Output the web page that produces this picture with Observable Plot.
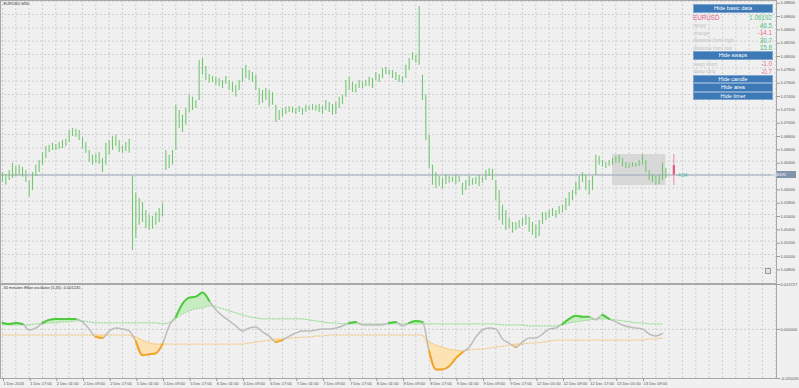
<!DOCTYPE html>
<html><head><meta charset="utf-8">
<script src="https://cdn.jsdelivr.net/npm/d3@7"></script>
<script src="https://cdn.jsdelivr.net/npm/@observablehq/plot@0.6"></script>
<style>
html,body{margin:0;padding:0;background:#f0f0f0;}
body{width:799px;height:388px;overflow:hidden;position:relative;font-family:"Liberation Sans",Arial,sans-serif;}
#main,#osc{position:absolute;left:0;}
#main{top:0;} #osc{top:283px;}
svg{overflow:visible;}
#panel{position:absolute;left:693px;top:4px;width:80px;}
.btn{box-sizing:border-box;height:8.5px;background:#3c79b6;border:1px solid #7ea6cf;color:#fff;font-size:5.5px;line-height:6.5px;text-align:center;}
.row{position:relative;height:7.5px;}
.row .l{position:absolute;left:0;bottom:0.5px;font-size:5px;color:#c4c4c4;}
.row .v{position:absolute;right:1px;bottom:0;font-size:6.3px;}
#scroll{position:absolute;left:765px;top:268px;width:4px;height:4px;border:1px solid #9a9a9a;background:#e4e4e4;}
</style></head><body>
<div id="main"></div><div id="osc"></div><div id="panel"></div><div id="scroll"></div>
<script>
// ---------- data ----------
const chartTitle = "EURUSD,M30";
const oscTitle = "30 minutes Elliot oscillator (5,35) -0.001245";
// hourly high / low of the 30-minute bars, from 1 Dec 09:00 to 13 Dec 16:00
const priceHigh = [
1.0623,1.0620,1.0626,1.0637,1.0632,1.0634,1.0631,1.0626,1.0611,1.0623,
1.0634,1.0641,1.0653,1.0662,1.0664,1.0667,1.0665,1.0668,1.0671,1.0673,
1.0686,1.0689,1.0688,1.0686,1.0676,1.0668,1.0656,1.0649,1.0650,1.0653,
1.0644,1.0667,1.0671,1.0677,1.0679,1.0671,1.0662,1.0668,1.0673,1.0617,
1.0592,1.0584,1.0578,1.0566,1.0559,1.0557,1.0563,1.0569,1.0577,1.0656,
1.0649,1.0656,1.0724,1.0716,1.0709,1.0719,1.0739,1.0736,1.0731,1.0791,
1.0794,1.0782,1.0770,1.0767,1.0766,1.0764,1.0761,1.0767,1.0761,1.0758,
1.0754,1.0761,1.0779,1.0784,1.0776,1.0773,1.0769,1.0749,1.0746,1.0749,
1.0746,1.0743,1.0724,1.0716,1.0719,1.0721,1.0722,1.0721,1.0719,1.0722,
1.0719,1.0724,1.0722,1.0725,1.0724,1.0725,1.0722,1.0731,1.0728,1.0725,
1.0728,1.0736,1.0739,1.0761,1.0766,1.0758,1.0755,1.0761,1.0758,1.0761,
1.0766,1.0764,1.0773,1.0770,1.0779,1.0781,1.0776,1.0776,1.0773,1.0769,
1.0767,1.0784,1.0794,1.0803,1.0799,1.0872,1.0769,1.0739,1.0679,1.0634,
1.0623,1.0617,1.0614,1.0620,1.0617,1.0616,1.0619,1.0617,1.0607,1.0611,
1.0617,1.0614,1.0616,1.0619,1.0616,1.0626,1.0629,1.0628,1.0611,1.0596,
1.0574,1.0566,1.0554,1.0548,1.0548,1.0551,1.0554,1.0559,1.0556,1.0548,
1.0544,1.0551,1.0563,1.0563,1.0566,1.0569,1.0566,1.0572,1.0574,1.0584,
1.0593,1.0596,1.0608,1.0617,1.0623,1.0619,1.0611,1.0617,1.0649,1.0647,
1.0641,1.0638,1.0641,1.0644,1.0647,1.0649,1.0644,1.0638,1.0637,1.0638,
1.0637,1.0641,1.0649,1.0641,1.0626,1.0620,1.0617,1.0619,1.0637,1.0629];
const priceLow = [
1.0608,1.0604,1.0611,1.0614,1.0617,1.0619,1.0616,1.0608,1.0586,1.0596,
1.0617,1.0623,1.0634,1.0644,1.0653,1.0656,1.0656,1.0658,1.0659,1.0662,
1.0668,1.0677,1.0676,1.0671,1.0659,1.0652,1.0638,1.0634,1.0637,1.0635,
1.0623,1.0634,1.0649,1.0656,1.0662,1.0653,1.0652,1.0655,1.0652,1.0506,
1.0524,1.0544,1.0548,1.0539,1.0536,1.0538,1.0544,1.0548,1.0557,1.0626,
1.0629,1.0634,1.0656,1.0689,1.0683,1.0694,1.0713,1.0716,1.0719,1.0731,
1.0769,1.0761,1.0757,1.0758,1.0754,1.0752,1.0749,1.0755,1.0746,1.0743,
1.0736,1.0746,1.0758,1.0764,1.0761,1.0758,1.0746,1.0724,1.0727,1.0731,
1.0721,1.0724,1.0698,1.0701,1.0707,1.0710,1.0713,1.0712,1.0710,1.0713,
1.0709,1.0713,1.0716,1.0716,1.0715,1.0713,1.0710,1.0716,1.0713,1.0709,
1.0710,1.0719,1.0725,1.0736,1.0746,1.0743,1.0742,1.0749,1.0749,1.0752,
1.0752,1.0749,1.0761,1.0758,1.0764,1.0770,1.0769,1.0764,1.0761,1.0758,
1.0757,1.0764,1.0776,1.0791,1.0787,1.0784,1.0731,1.0671,1.0629,1.0604,
1.0599,1.0602,1.0599,1.0605,1.0607,1.0608,1.0605,1.0608,1.0589,1.0596,
1.0602,1.0604,1.0605,1.0602,1.0607,1.0611,1.0617,1.0611,1.0581,1.0551,
1.0544,1.0536,1.0539,1.0532,1.0536,1.0539,1.0542,1.0544,1.0533,1.0529,
1.0524,1.0527,1.0545,1.0551,1.0554,1.0557,1.0554,1.0560,1.0563,1.0566,
1.0572,1.0581,1.0589,1.0596,1.0608,1.0596,1.0589,1.0596,1.0619,1.0634,
1.0631,1.0629,1.0632,1.0634,1.0637,1.0637,1.0632,1.0629,1.0629,1.0631,
1.0631,1.0632,1.0634,1.0623,1.0611,1.0608,1.0604,1.0605,1.0611,1.0614];
const lastPrice = 1.06192;
const dayOpen = 1.06333;
const sessionStartHour = 183;
const sessionHigh = 1.06499;
const sessionLow = 1.06034;
const timerText = "4:04";
const priceTicks = [1.088,1.086,1.084,1.082,1.080,1.078,1.076,1.074,1.072,1.070,1.068,1.066,1.064,1.062,1.060,1.058,1.056,1.054,1.052,1.050,1.048];
const timeLabels = ["1 Dec 2016","1 Dec 17:00","2 Dec 01:00","2 Dec 09:00","2 Dec 17:00","5 Dec 01:00","5 Dec 09:00","5 Dec 17:00","6 Dec 01:00","6 Dec 09:00","6 Dec 17:00","7 Dec 01:00","7 Dec 09:00","7 Dec 17:00","8 Dec 01:00","8 Dec 09:00","8 Dec 17:00","9 Dec 01:00","9 Dec 09:00","9 Dec 17:00","12 Dec 01:00","12 Dec 09:00","12 Dec 17:00","13 Dec 01:00","13 Dec 09:00"];
// oscillator, one value every 2 hours
const oscMain = [
0.00198,0.00167,0.00198,0.00167,-0.00019,0.00043,0.00198,0.00290,0.00321,0.00321,
0.00321,0.00321,0.00229,0.00012,-0.00235,-0.00266,-0.00049,0.00043,0.00012,-0.00049,
-0.00358,-0.00791,-0.00760,-0.00729,-0.00451,0.00105,0.00383,0.00785,0.00970,0.01001,
0.01125,0.00878,0.00599,0.00414,0.00260,0.00105,-0.00049,0.00043,0.00074,-0.00080,
-0.00204,-0.00389,-0.00328,-0.00204,-0.00111,-0.00049,-0.00049,-0.00019,0.00012,0.00012,
0.00043,0.00105,0.00198,0.00229,0.00136,0.00136,0.00136,0.00136,0.00198,0.00229,
0.00105,0.00198,0.00260,0.00229,-0.00667,-0.01224,-0.01224,-0.01131,-0.00884,-0.00698,
-0.00544,-0.00235,-0.00019,0.00043,0.00012,-0.00297,-0.00420,-0.00544,-0.00389,-0.00266,
-0.00266,-0.00142,0.00012,0.00043,0.00167,0.00321,0.00414,0.00383,0.00383,0.00290,
0.00445,0.00321,0.00229,0.00136,0.00074,0.00043,0.00012,-0.00142,-0.00204,-0.00125];
const oscUpper = [
0.00136,0.00136,0.00136,0.00136,0.00136,0.00167,0.00167,0.00198,0.00198,0.00229,
0.00229,0.00260,0.00260,0.00229,0.00198,0.00198,0.00198,0.00198,0.00198,0.00198,
0.00198,0.00198,0.00198,0.00198,0.00167,0.00198,0.00321,0.00476,0.00569,0.00630,
0.00661,0.00723,0.00692,0.00630,0.00569,0.00507,0.00445,0.00383,0.00352,0.00321,
0.00321,0.00321,0.00321,0.00321,0.00321,0.00321,0.00290,0.00260,0.00229,0.00198,
0.00198,0.00167,0.00167,0.00167,0.00167,0.00167,0.00167,0.00167,0.00167,0.00167,
0.00167,0.00167,0.00167,0.00167,0.00167,0.00167,0.00167,0.00167,0.00167,0.00167,
0.00167,0.00167,0.00167,0.00167,0.00167,0.00136,0.00136,0.00136,0.00136,0.00105,
0.00105,0.00105,0.00105,0.00105,0.00136,0.00198,0.00229,0.00260,0.00290,0.00321,
0.00321,0.00321,0.00290,0.00260,0.00229,0.00198,0.00198,0.00167,0.00167,0.00167];
const oscLower = [
-0.00173,-0.00173,-0.00173,-0.00173,-0.00173,-0.00173,-0.00173,-0.00173,-0.00173,-0.00173,
-0.00173,-0.00173,-0.00173,-0.00173,-0.00173,-0.00173,-0.00173,-0.00173,-0.00173,-0.00173,
-0.00235,-0.00328,-0.00420,-0.00451,-0.00451,-0.00451,-0.00451,-0.00451,-0.00451,-0.00451,
-0.00451,-0.00451,-0.00451,-0.00451,-0.00451,-0.00451,-0.00451,-0.00420,-0.00389,-0.00358,
-0.00328,-0.00297,-0.00297,-0.00266,-0.00266,-0.00235,-0.00235,-0.00204,-0.00204,-0.00173,
-0.00173,-0.00173,-0.00173,-0.00173,-0.00173,-0.00173,-0.00173,-0.00173,-0.00173,-0.00173,
-0.00173,-0.00173,-0.00173,-0.00173,-0.00389,-0.00482,-0.00544,-0.00606,-0.00637,-0.00667,
-0.00637,-0.00606,-0.00606,-0.00575,-0.00544,-0.00513,-0.00482,-0.00451,-0.00451,-0.00420,
-0.00420,-0.00389,-0.00358,-0.00328,-0.00328,-0.00328,-0.00328,-0.00328,-0.00328,-0.00328,
-0.00328,-0.00328,-0.00328,-0.00328,-0.00328,-0.00328,-0.00328,-0.00297,-0.00297,-0.00266];
const oscTicks = [0.013727, 0, -0.015026];
// info panel
const infoSymbol = "EURUSD";
const infoPrice = "1.06192";
const statLabels = ["range","change","distance from high","distance from low"];
const statValues = [46.5, -14.1, 30.7, 15.8];
const swapLabels = ["swap short","swap long"];
const swapValues = [-1.0, -0.7];
const buttonLabels = ["Hide basic data","Hide swaps","Hide candle","Hide area","Hide timer"];

// ---------- chart ----------
const FONT = '"Liberation Sans", Arial, sans-serif';
const xDomain = [-0.6, 232.2];
const hours = d3.range(priceHigh.length);
const lastHour = hours[hours.length - 1];
const gridHours = d3.range(0, 233, 4);
const gridStyle = {stroke: "#cfcfcf", strokeOpacity: 1, strokeDasharray: "2,2"};
// the label hidden under the price box is not drawn
const labelTicks = priceTicks.filter(t => Math.abs(t - lastPrice) > 0.0008);

const main = Plot.plot({
  width: 799, height: 283,
  marginLeft: 0, marginRight: 23, marginTop: 0, marginBottom: 0,
  style: {background: "transparent", fontFamily: FONT, fontSize: "4px", overflow: "visible"},
  x: {domain: xDomain, axis: null},
  y: {domain: [1.04565, 1.0881]},
  marks: [
    Plot.gridX(gridHours, gridStyle),
    Plot.gridY(priceTicks, gridStyle),
    Plot.rect([{a: sessionStartHour, b: lastHour, lo: sessionLow, hi: sessionHigh}],
      {x1: "a", x2: "b", y1: "lo", y2: "hi", fill: "#d8d8d8"}),
    Plot.ruleY([lastPrice], {stroke: "#9aa7b8", strokeWidth: 1}),
    Plot.ruleX(hours, {x: d => d, y1: d => priceLow[d], y2: d => priceHigh[d], stroke: "#74c674", strokeWidth: 1.1}),
    Plot.ruleX([lastHour], {x: d => d, y1: sessionLow, y2: sessionHigh, dx: 8, stroke: "#ea8aa8", strokeWidth: 1}),
    Plot.ruleX([lastHour], {x: d => d, y1: dayOpen, y2: lastPrice, dx: 8, stroke: "#e0587f", strokeWidth: 2.2}),
    Plot.text([timerText], {x: lastHour, y: lastPrice, dx: 12, textAnchor: "start", fill: "#4fb8a2", fontSize: 5}),
    Plot.frame({stroke: "#a8a8a8"}),
    Plot.axisY(labelTicks, {anchor: "right", tickSize: 3, tickPadding: 1, tickFormat: d => d.toFixed(5), fill: "#555", stroke: "#999", fontSize: 4, label: null, dy: 2}),
    (index, scales, values, dims) => {
      const g = d3.create("svg:g");
      const y = scales.y(lastPrice);
      const x0 = dims.width - dims.marginRight + 1;
      g.append("rect").attr("x", x0).attr("y", y - 3.5).attr("width", 19).attr("height", 7).attr("fill", "#8294ab");
      g.append("text").attr("x", x0 + 2).attr("y", y).attr("dy", "0.35em").attr("font-size", 4)
        .attr("font-family", FONT).attr("fill", "#fff").text(lastPrice.toFixed(5));
      return g.node();
    },
    Plot.text([chartTitle], {frameAnchor: "top-left", dx: 3, dy: 2, fill: "#333", fontSize: 4})
  ]
});
document.getElementById("main").append(main);

const oscData = oscMain.map((v, k) => ({h: k * 2, osc: v, up: oscUpper[k], lo: oscLower[k]}));
const osc = Plot.plot({
  width: 799, height: 105,
  marginLeft: 0, marginRight: 23, marginTop: 1, marginBottom: 10,
  style: {background: "transparent", fontFamily: FONT, fontSize: "4px", overflow: "visible"},
  x: {domain: xDomain},
  y: {domain: [-0.015026, 0.013727]},
  marks: [
    Plot.gridX(gridHours, gridStyle),
    Plot.gridY([0], gridStyle),
    Plot.areaY(oscData, {x: "h", y1: "up", y2: d => Math.max(d.osc, d.up), fill: "#c6edc0", curve: "linear"}),
    Plot.areaY(oscData, {x: "h", y1: "lo", y2: d => Math.min(d.osc, d.lo), fill: "#fde2b4", curve: "linear"}),
    Plot.line(oscData, {x: "h", y: "up", stroke: "#8edb8a", strokeWidth: 1, strokeDasharray: "1.5,1.5"}),
    Plot.line(oscData, {x: "h", y: "lo", stroke: "#f7c47a", strokeWidth: 1, strokeDasharray: "1.5,1.5"}),
    Plot.line(oscData, {x: "h", y: "osc", stroke: "#bcbcbc", strokeWidth: 1.5, curve: "monotone-x"}),
    Plot.line(oscData, {x: "h", y: d => d.osc >= d.up ? d.osc : NaN, stroke: "#4ccb3c", strokeWidth: 2, curve: "monotone-x"}),
    Plot.line(oscData, {x: "h", y: d => d.osc <= d.lo ? d.osc : NaN, stroke: "#f5a524", strokeWidth: 2, curve: "monotone-x"}),
    Plot.frame({stroke: "#a8a8a8"}),
    Plot.axisY(oscTicks, {anchor: "right", tickSize: 3, tickPadding: 1, tickFormat: d => d.toFixed(6), fill: "#555", stroke: "#999", fontSize: 4, label: null}),
    Plot.axisX(d3.range(0, 193, 8), {anchor: "bottom", tickSize: 3, tickPadding: 1, tickFormat: d => timeLabels[d / 8], textAnchor: "start", dx: 1, fill: "#555", stroke: "#999", fontSize: 4, label: null}),
    Plot.text([oscTitle], {frameAnchor: "top-left", dx: 3, dy: 2, fill: "#333", fontSize: 4})
  ]
});
document.getElementById("osc").append(osc);

// ---------- info panel ----------
const panel = document.getElementById("panel");
const green = "#4fc47c", pink = "#ee6a8e";
function addButton(t) { const d = document.createElement("div"); d.className = "btn"; d.textContent = t; panel.append(d); }
function addRow(label, value, big) {
  const r = document.createElement("div"); r.className = "row";
  const l = document.createElement("span"); l.className = "l"; l.textContent = label;
  const v = document.createElement("span"); v.className = "v";
  v.textContent = typeof value === "number" ? value.toFixed(1) : value;
  v.style.color = typeof value === "number" && value < 0 ? pink : green;
  if (big) { r.style.height = "8.5px"; l.style.fontSize = "6.3px"; l.style.color = "#e0608a"; l.style.bottom = "0"; }
  r.append(l, v); panel.append(r);
}
addButton(buttonLabels[0]);
addRow(infoSymbol, infoPrice, true);
statLabels.forEach((l, i) => addRow(l, statValues[i]));
addButton(buttonLabels[1]);
swapLabels.forEach((l, i) => addRow(l, swapValues[i]));
buttonLabels.slice(2).forEach(addButton);
</script></body></html>
